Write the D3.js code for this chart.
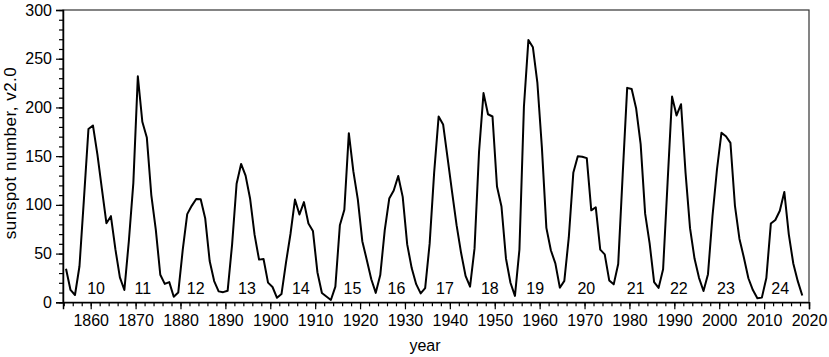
<!DOCTYPE html>
<html><head><meta charset="utf-8">
<script src="https://cdn.jsdelivr.net/npm/d3@7"></script>
<style>
html,body{margin:0;padding:0;background:#fff;}
text{font-family:"Liberation Sans",Arial,sans-serif;fill:#000;}
</style></head>
<body><svg id="c" width="829" height="357"></svg>
<script>
const years = d3.range(1854, 2019);
const sunspots = [
34.5,12.7,7.5,37.0,106.4,177.9,181.5,151.6,116.1,81.2,
88.4,54.5,25.5,12.6,62.9,122.6,232.0,185.3,169.2,110.1,
74.5,28.3,18.9,20.7,5.7,10.0,53.7,90.5,99.0,106.1,
105.8,86.3,42.4,21.8,11.2,10.4,11.8,59.5,121.7,142.0,
130.0,106.6,69.4,43.8,44.4,20.2,15.7,4.6,8.5,40.8,
70.1,105.5,90.1,102.8,80.9,73.2,30.9,9.5,6.0,2.4,
16.1,79.0,95.0,173.6,134.6,105.7,62.7,43.5,23.7,9.7,
27.9,74.0,106.5,114.7,129.7,108.2,59.4,35.1,18.6,9.2,
14.6,60.2,132.8,190.6,182.6,148.0,113.0,79.2,50.8,27.1,
16.1,55.3,154.3,214.7,193.0,190.7,118.9,98.3,45.0,20.1,
6.6,54.2,200.7,269.3,261.7,225.1,159.0,76.4,53.4,39.9,
15.0,22.0,66.8,132.9,150.0,149.4,148.0,94.4,97.6,54.1,
49.2,22.5,18.4,39.3,131.0,220.1,218.9,198.9,162.4,91.0,
60.5,20.6,14.8,33.9,123.0,211.1,191.8,203.3,133.0,76.1,
44.9,25.1,11.6,28.9,88.3,136.3,173.9,170.4,163.6,99.3,
65.3,45.8,24.7,12.6,4.2,4.8,24.9,80.8,84.5,94.0,
113.3,69.8,39.8,21.7,7.0];
const cycleNumbers = [10,11,12,13,14,15,16,17,18,19,20,21,22,23,24];
const cycleLabelYears = [1861.2,1871.6,1883.4,1894.8,1906.8,1918.3,1928.1,1938.9,1948.9,1959.0,1970.4,1981.4,1991.0,2001.5,2013.6];
const xTicks = [1860,1870,1880,1890,1900,1910,1920,1930,1940,1950,1960,1970,1980,1990,2000,2010,2020];
const yTicks = [0,50,100,150,200,250,300];

const L=63,R=809,T=10,B=302.3;
const svg=d3.select("#c");
const x=d3.scaleLinear().domain([1853.83,2020]).range([L,R]);
const y=d3.scaleLinear().domain([0,300]).range([B,T]);

// frame
svg.append("rect").attr("x",L).attr("y",T).attr("width",R-L).attr("height",B-T)
  .attr("fill","none").attr("stroke","#333").attr("stroke-width",1.2);

// x axis
const gx=svg.append("g").attr("transform",`translate(0,${B})`);
gx.call(d3.axisBottom(x).tickValues(d3.range(1854,2021,2)).tickSize(4).tickFormat(""));
gx.call(g=>g.selectAll(".domain").remove());
const gx2=svg.append("g").attr("transform",`translate(0,${B})`);
gx2.call(d3.axisBottom(x).tickValues(xTicks).tickSize(7).tickPadding(5).tickFormat(d3.format("d")));
gx2.selectAll(".domain").attr("stroke","#000").attr("stroke-width",1.5);
gx2.selectAll("text").attr("font-size",16).attr("font-family","Liberation Sans, Arial, sans-serif");

// y axis
const gy=svg.append("g").attr("transform",`translate(${L},0)`);
gy.call(d3.axisLeft(y).tickValues(d3.range(0,301,10)).tickSize(4).tickFormat(""));
gy.call(g=>g.selectAll(".domain").remove());
const gy2=svg.append("g").attr("transform",`translate(${L},0)`);
gy2.call(d3.axisLeft(y).tickValues(yTicks).tickSize(7).tickPadding(4));
gy2.selectAll(".domain").attr("stroke","#000").attr("stroke-width",1.5);
gy2.selectAll("text").attr("font-size",16).attr("font-family","Liberation Sans, Arial, sans-serif");
svg.selectAll(".tick line").attr("stroke","#000").attr("stroke-width",1.2);

// line
const line=d3.line().x((d,i)=>x(years[i]+0.5)).y(d=>y(d));
svg.append("path").datum(sunspots).attr("d",line).attr("fill","none")
  .attr("stroke","#000").attr("stroke-width",2).attr("stroke-linejoin","round");

// cycle labels
svg.append("g").selectAll("text").data(cycleNumbers).join("text")
  .attr("x",(d,i)=>x(cycleLabelYears[i])).attr("y",y(0)-8.5)
  .attr("text-anchor","middle").attr("font-size",16).text(d=>d);

// axis titles
svg.append("text").attr("x",425).attr("y",351).attr("text-anchor","middle")
  .attr("font-size",16).text("year");
svg.append("text").attr("transform",`translate(16,153) rotate(-90)`)
  .attr("text-anchor","middle").attr("font-size",17).attr("letter-spacing",0.5)
  .text("sunspot number, v2.0");
</script></body></html>
